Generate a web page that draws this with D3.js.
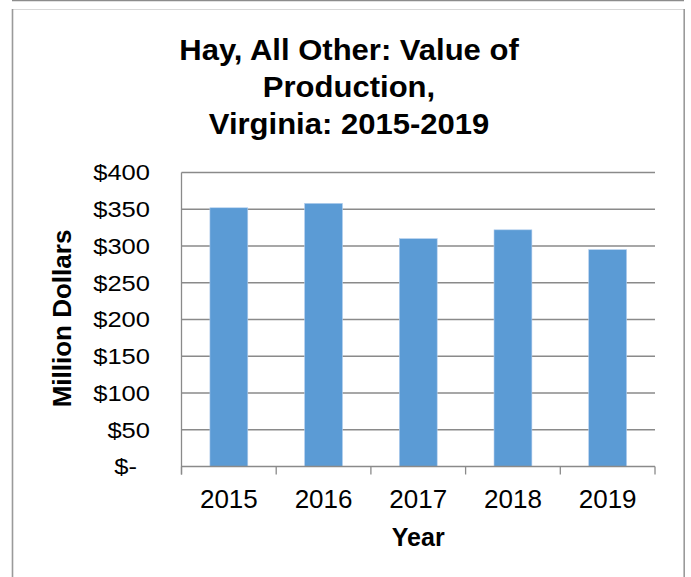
<!DOCTYPE html>
<html>
<head>
<meta charset="utf-8">
<script src="https://cdn.jsdelivr.net/npm/d3@7"></script>
<style>
  html, body { margin: 0; padding: 0; background: #fff; }
  svg { display: block; font-family: "Liberation Sans", Arial, sans-serif; }
</style>
</head>
<body>
<svg id="chart" width="691" height="577"></svg>
<script>
// Hay, All Other: value of production in Virginia (million dollars)
const years = ["2015", "2016", "2017", "2018", "2019"];
const values = [352, 358, 310, 322, 295];
const yTicks = [0, 50, 100, 150, 200, 250, 300, 350, 400];
const titleLines = ["Hay, All Other: Value of", "Production,", "Virginia: 2015-2019"];
const xTitle = "Year";
const yTitle = "Million Dollars";

const svg = d3.select("#chart");
const W = 691, H = 577;
const plot = { left: 181.5, right: 655, top: 172.5, bottom: 466.5 };

// chart frame
const frame = svg.append("g");
frame.append("line").attr("x1", 12).attr("x2", 684).attr("y1", 0.5).attr("y2", 0.5)
  .attr("stroke", "#8c8c8c").attr("stroke-width", 1.5);
frame.append("line").attr("x1", 12).attr("x2", 684).attr("y1", 9.5).attr("y2", 9.5)
  .attr("stroke", "#d9d9d9").attr("stroke-width", 1);
frame.append("line").attr("x1", 12.5).attr("x2", 12.5).attr("y1", 9).attr("y2", H)
  .attr("stroke", "#9a9a9a").attr("stroke-width", 1.6);
frame.append("line").attr("x1", 684.2).attr("x2", 684.2).attr("y1", 9).attr("y2", H)
  .attr("stroke", "#9a9a9a").attr("stroke-width", 1.6);

const x = d3.scaleBand().domain(years).range([plot.left, plot.right])
  .paddingInner(0.6).paddingOuter(0.3);
const y = d3.scaleLinear().domain([0, 400]).range([plot.bottom, plot.top]);

// horizontal gridlines
svg.append("g").selectAll("line").data(yTicks.filter(d => d > 0)).join("line")
  .attr("x1", plot.left).attr("x2", plot.right)
  .attr("y1", d => y(d)).attr("y2", d => y(d))
  .attr("stroke", "#8a8a8a").attr("stroke-width", 1.3);

// bars
svg.append("g").selectAll("rect").data(values).join("rect")
  .attr("x", (d, i) => x(years[i]))
  .attr("width", x.bandwidth())
  .attr("y", d => y(d))
  .attr("height", d => y(0) - y(d))
  .attr("fill", "#5b9bd5")
  .attr("stroke", "#b4cfee").attr("stroke-width", 0.6);

// axes lines and category tick marks
const axis = svg.append("g").attr("stroke", "#8a8a8a").attr("stroke-width", 1.3);
axis.append("line").attr("x1", plot.left).attr("x2", plot.left)
  .attr("y1", plot.top).attr("y2", plot.bottom + 8);
axis.append("line").attr("x1", plot.left).attr("x2", plot.right)
  .attr("y1", plot.bottom).attr("y2", plot.bottom);
const step = x.step();
const bounds = [x(years[0]) + x.bandwidth() / 2 - step / 2]
  .concat(years.map(d => x(d) + x.bandwidth() / 2 + step / 2));
axis.selectAll("line.tick").data(bounds).join("line").attr("class", "tick")
  .attr("x1", d => d).attr("x2", d => d)
  .attr("y1", plot.bottom).attr("y2", plot.bottom + 8);

// y tick labels (accounting style)
const fmtY = d => d === 0 ? "$-" : "$" + d3.format(",")(d);
svg.append("g").selectAll("g").data(yTicks).join("g")
  .attr("transform", d => `translate(${d === 0 ? 137 : 150},${y(d)}) scale(1.16,1)`)
  .append("text")
  .attr("text-anchor", "end").attr("dy", "0.36em")
  .attr("font-size", 22).attr("fill", "#000")
  .text(fmtY);

// x tick labels
svg.append("g").selectAll("text").data(years).join("text")
  .attr("x", d => x(d) + x.bandwidth() / 2).attr("y", 508)
  .attr("text-anchor", "middle").attr("font-size", 26).attr("fill", "#000")
  .text(d => d);

// axis titles
svg.append("text").attr("x", (plot.left + plot.right) / 2).attr("y", 546)
  .attr("text-anchor", "middle").attr("font-size", 25).attr("font-weight", "bold")
  .text(xTitle);
svg.append("text")
  .attr("transform", `translate(71,${(plot.top + plot.bottom) / 2 - 1}) rotate(-90)`)
  .attr("text-anchor", "middle").attr("font-size", 26).attr("font-weight", "bold")
  .text(yTitle);

// chart title
const titleBase = [60, 97, 134];
svg.append("g").selectAll("g").data(titleLines).join("g")
  .attr("transform", (d, i) => `translate(349,${titleBase[i]}) scale(1.07,1)`)
  .append("text")
  .attr("text-anchor", "middle").attr("font-size", 29).attr("font-weight", "bold")
  .text(d => d);
</script>
</body>
</html>
